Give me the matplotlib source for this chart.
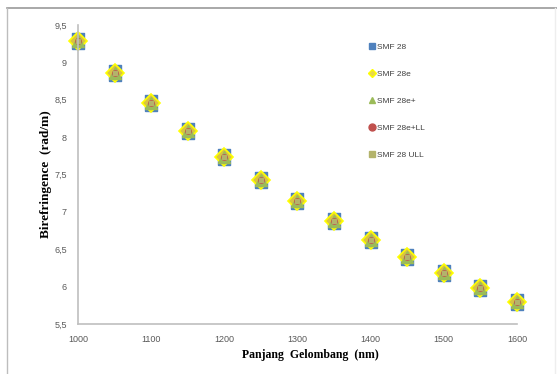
import matplotlib
matplotlib.use("Agg")
import matplotlib.pyplot as plt
from matplotlib.lines import Line2D
from matplotlib.ticker import FuncFormatter

wavelength = [1000, 1050, 1100, 1150, 1200, 1250, 1300, 1350, 1400, 1450, 1500, 1550, 1600]
smf28 = [9.29, 8.86, 8.46, 8.08, 7.74, 7.43, 7.15, 6.88, 6.62, 6.39, 6.18, 5.98, 5.79]
smf28e = list(smf28)
smf28e_plus = list(smf28)
smf28e_ll = list(smf28)
smf28_ull = list(smf28)
series_names = ["SMF 28", "SMF 28e", "SMF 28e+", "SMF 28e+LL", "SMF 28 ULL"]
x_ticks = [1000, 1100, 1200, 1300, 1400, 1500, 1600]
y_ticks = [5.5, 6, 6.5, 7, 7.5, 8, 8.5, 9, 9.5]

fig = plt.figure(figsize=(5.57, 3.74), dpi=100)
ax = fig.add_axes([0.140, 0.134, 0.788, 0.799])

rect = [(-0.75, -1), (0.75, -1), (0.75, 1), (-0.75, 1), (-0.75, -1)]
styles = [
    dict(marker=rect, ms=11, mfc="#4F81BD", mec="#4F81BD"),
    dict(marker="D", ms=9, mfc="#D9C441", mec="#FFFF00", mew=1.2),
    dict(marker="^", ms=8, mfc="#9BBB59", mec="#9BBB59"),
    dict(marker="o", ms=4, mfc="#C0504D", mec="#C0504D"),
    dict(marker="s", ms=3.5, mfc="#B3B36B", mec="#B3B36B"),
]
data = [smf28, smf28e, smf28e_plus, smf28e_ll, smf28_ull]
for name, vals, st in zip(series_names, data, styles):
    ax.plot(wavelength, vals, linestyle="none", label=name, clip_on=False, **st)

ax.set_xlim(1000, 1600)
ax.set_ylim(5.5, 9.5)
ax.set_xticks(x_ticks)
ax.set_yticks(y_ticks)
fmt = FuncFormatter(lambda v, p: (("%g" % v).replace(".", ",")))
ax.yaxis.set_major_formatter(fmt)
ax.tick_params(length=0, labelsize=6.5, colors="#595959", pad=8)
for lab in ax.get_xticklabels() + ax.get_yticklabels():
    lab.set_family("Liberation Sans")
for s in ["top", "right"]:
    ax.spines[s].set_visible(False)
for s in ["left", "bottom"]:
    ax.spines[s].set_color("#BFBFBF")
    ax.spines[s].set_linewidth(1.2)

ax.set_xlabel("Panjang  Gelombang  (nm)", family="Liberation Serif", weight="bold",
              fontsize=8.5, labelpad=3)
ax.xaxis.set_label_coords(0.53, -0.085)
ax.set_ylabel("Birefringence  (rad/m)", family="Liberation Serif", weight="bold",
              fontsize=9.5)
ax.yaxis.set_label_coords(-0.06, 0.5)

leg_styles = [
    dict(marker="s", ms=5, mfc="#4F81BD", mec="#4F81BD"),
    dict(marker="D", ms=4.5, mfc="#E8D84A", mec="#FFFF00"),
    dict(marker="^", ms=5, mfc="#9BBB59", mec="#9BBB59"),
    dict(marker="o", ms=5, mfc="#C0504D", mec="#C0504D"),
    dict(marker="s", ms=4, mfc="#B3B36B", mec="#B3B36B"),
]
leg_handles = [Line2D([], [], linestyle="none", **st) for st in leg_styles]
fig.legend(leg_handles, series_names, loc="upper left",
           bbox_to_anchor=(362 / 557, 1 - 36 / 374), frameon=False,
           prop={"family": "Liberation Sans", "size": 6}, labelspacing=2.3,
           handlelength=0.6, handletextpad=0.3, labelcolor="#404040")

# outer frame
fig.add_artist(Line2D([7 / 557, 1], [1 - 8 / 374, 1 - 8 / 374], color="#9A9A9A", lw=1.2,
                      transform=fig.transFigure))
fig.add_artist(Line2D([7 / 557, 7 / 557], [0, 1 - 8 / 374], color="#BDBDBD", lw=1.0,
                      transform=fig.transFigure))
fig.add_artist(Line2D([555 / 557, 555 / 557], [0, 1 - 8 / 374], color="#EEEEEE", lw=1.0,
                      transform=fig.transFigure))

fig.savefig("out.png", dpi=100)
